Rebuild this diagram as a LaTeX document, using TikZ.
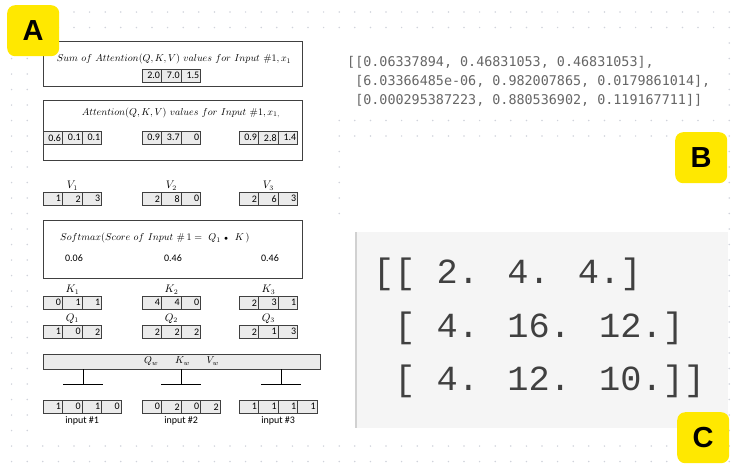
\documentclass[tikz,border=0pt]{standalone}
\usepackage{amsmath,amssymb}
\usepackage{fontspec}
\usepackage{tikz}
\usetikzlibrary{calc, positioning}
\newfontfamily\cellfont{Carlito}
\newfontfamily\codefont{DejaVu Sans Mono}
\newfontfamily\resfont{Liberation Mono}
\newfontfamily\badgefont{Liberation Sans}
\definecolor{dotgray}{HTML}{D0D3DB}
\definecolor{badgeyellow}{HTML}{FFE800}
\definecolor{cellgray}{HTML}{EBEBEB}
\definecolor{codegray}{HTML}{666666}
\definecolor{panelgray}{HTML}{F5F5F5}
\tikzstyle{cell}=[draw=black!75, fill=cellgray, line width=0.8pt, outer sep=0pt, minimum height=13.5pt, text width=16.4pt, inner sep=1.6pt, align=right, font=\cellfont\fontsize{10}{10}\selectfont, anchor=north west]
\tikzstyle{frame}=[draw=black!75, line width=0.9pt, fill=white, inner sep=0pt, anchor=north west]
\tikzstyle{title}=[inner sep=0pt, font=\fontsize{10}{11}\selectfont]
\tikzstyle{vlabel}=[inner sep=0.5pt, font=\fontsize{10.5}{11}\selectfont]
\tikzstyle{lbl}=[inner sep=0.5pt, font=\cellfont\fontsize{10}{10}\selectfont]
\tikzstyle{code}=[inner sep=0pt, anchor=base west, text=codegray, font=\codefont\fontsize{13.4}{16}\selectfont]
\tikzstyle{bigcode}=[inner sep=0pt, anchor=base west, text=black!75, font=\resfont\fontsize{35.3}{40}\selectfont]
\tikzstyle{badge}=[fill=badgeyellow, rounded corners=8pt, minimum width=52pt, minimum height=51pt, inner sep=0pt, anchor=north west, font=\badgefont\bfseries\fontsize{29}{29}\selectfont]

\begin{document}
\begin{tikzpicture}[x=1pt, y=-1pt]
		\useasboundingbox (0,0) rectangle (741,472);
		
		% Dotted background
		\foreach \i in {0,...,46}
		\foreach \j in {0,...,29}
		\fill[dotgray] (11.6+15.6*\i, 12+15.5*\j) circle (0.85pt);
		
		% Panels
		\fill[white] (35,35) rectangle (334,440);
		\fill[white] (334,35) rectangle (724,116);
		\fill[white] (345,143) rectangle (724,440);
		\fill[white] (334,222) rectangle (345,440);
		
		% Sum of attention
		\node[frame, minimum width=259pt, minimum height=45pt] (sumbox) at (43,41) {};
		\node[title] (sumtitle) at (174,59) {$Sum\ of\ Attention(Q,K,V)\ values\ for\ Input\ \#1, x_1$};
		\node[cell] (s1) at (142,69) {2.0};
		\node[cell, right=0pt of s1] (s2) {7.0};
		\node[cell, right=0pt of s2] (s3) {1.5};
		
		% Attention values
		\node[frame, minimum width=259pt, minimum height=60pt] (attbox) at (43,100) {};
		\node[title] (atttitle) at (181,113) {$Attention(Q,K,V)\ values\ for\ Input\ \#1, x_{1,}$};
		\foreach \g/\x/\a/\b/\c in {1/43/0.6/0.1/0.1, 2/142/0.9/3.7/0, 3/239/0.9/2.8/1.4}{
			\node[cell] (a\g a) at (\x,131) {\a};
			\node[cell, right=0pt of a\g a] (a\g b) {\b};
			\node[cell, right=0pt of a\g b] (a\g c) {\c};
		}
		
		% Value vectors
		\foreach \g/\x/\a/\b/\c in {1/43/1/2/3, 2/142/2/8/0, 3/239/2/6/3}{
			\node[cell] (v\g a) at (\x,192) {\a};
			\node[cell, right=0pt of v\g a] (v\g b) {\b};
			\node[cell, right=0pt of v\g b] (v\g c) {\c};
			\node[vlabel, above=1pt of v\g b] (v\g) {$V_{\g}$};
		}
		
		% Softmax scores
		\node[frame, minimum width=259pt, minimum height=58pt] (softbox) at (43,220) {};
		\node[title, anchor=west] (softtitle) at (60,238) {$Softmax(Score\ of\ Input\ \#\,1 =\ Q_1\ {\scriptstyle\bullet}\ \ K\,)$};
		\foreach \g/\x/\p in {1/74/0.06, 2/173/0.46, 3/270/0.46}
		\node[lbl] (p\g) at (\x,258) {\p};
		
		% Key and query vectors
		\foreach \g/\x/\a/\b/\c/\d/\e/\f in {1/43/0/1/1/1/0/2, 2/142/4/4/0/2/2/2, 3/239/2/3/1/2/1/3}{
			\node[cell] (k\g a) at (\x,296) {\a};
			\node[cell, right=0pt of k\g a] (k\g b) {\b};
			\node[cell, right=0pt of k\g b] (k\g c) {\c};
			\node[vlabel, above=1pt of k\g b] (k\g) {$K_{\g}$};
			\node[cell] (q\g a) at (\x,325) {\d};
			\node[cell, right=0pt of q\g a] (q\g b) {\e};
			\node[cell, right=0pt of q\g b] (q\g c) {\f};
			\node[vlabel, above=1pt of q\g b] (q\g) {$Q_{\g}$};
		}
		
		% Weights
		\node[cell, text width=, align=center, minimum width=277pt, minimum height=15pt, inner sep=0pt, font=\fontsize{10}{11}\selectfont] (wbar) at (43,354) {$Q_w\quad\ \ K_w\quad\ \ V_w$};
		\foreach \g/\x in {1/83, 2/181, 3/281}{
			\coordinate (t\g) at (\x,384);
			\draw[line width=0.9pt] (wbar.south -| t\g) -- (t\g);
			\draw[line width=0.9pt] ($(t\g)+(-20,0)$) -- ($(t\g)+(20,0)$);
		}
		
		% Inputs
		\foreach \g/\x/\a/\b/\c/\d in {1/43/1/0/1/0, 2/142/0/2/0/2, 3/239/1/1/1/1}{
			\node[cell] (in\g a) at (\x,400) {\a};
			\node[cell, right=0pt of in\g a] (in\g b) {\b};
			\node[cell, right=0pt of in\g b] (in\g c) {\c};
			\node[cell, right=0pt of in\g c] (in\g d) {\d};
			\node[lbl, below=2pt of in\g b.south east] (inl\g) {input \#\g};
		}
		
		% Softmax output
		\node[code] (code1) at (347,66) {[[0.06337894, 0.46831053, 0.46831053],};
		\node[code] (code2) at (347,85) {\hphantom{[}[6.03366485e-06, 0.982007865, 0.0179861014],};
		\node[code] (code3) at (347,104) {\hphantom{[}[0.000295387223, 0.880536902, 0.119167711]]};
		
		% Score matrix
		\fill[panelgray] (355,232) rectangle (728,428);
		\draw[line width=2.5pt, black!18] (356,232) -- (356,428);
		\node[bigcode] (res1) at (373,283) {[[ 2. 4. 4.]};
		\node[bigcode] (res2) at (373,337) {\hphantom{[}[ 4. 16. 12.]};
		\node[bigcode] (res3) at (373,390) {\hphantom{[}[ 4. 12. 10.]]};
		
		% Badges
		\node[badge] (badgeA) at (7,5) {A};
		\node[badge] (badgeB) at (675,132) {B};
		\node[badge] (badgeC) at (677,412) {C};
		
	\end{tikzpicture}
\end{document}
